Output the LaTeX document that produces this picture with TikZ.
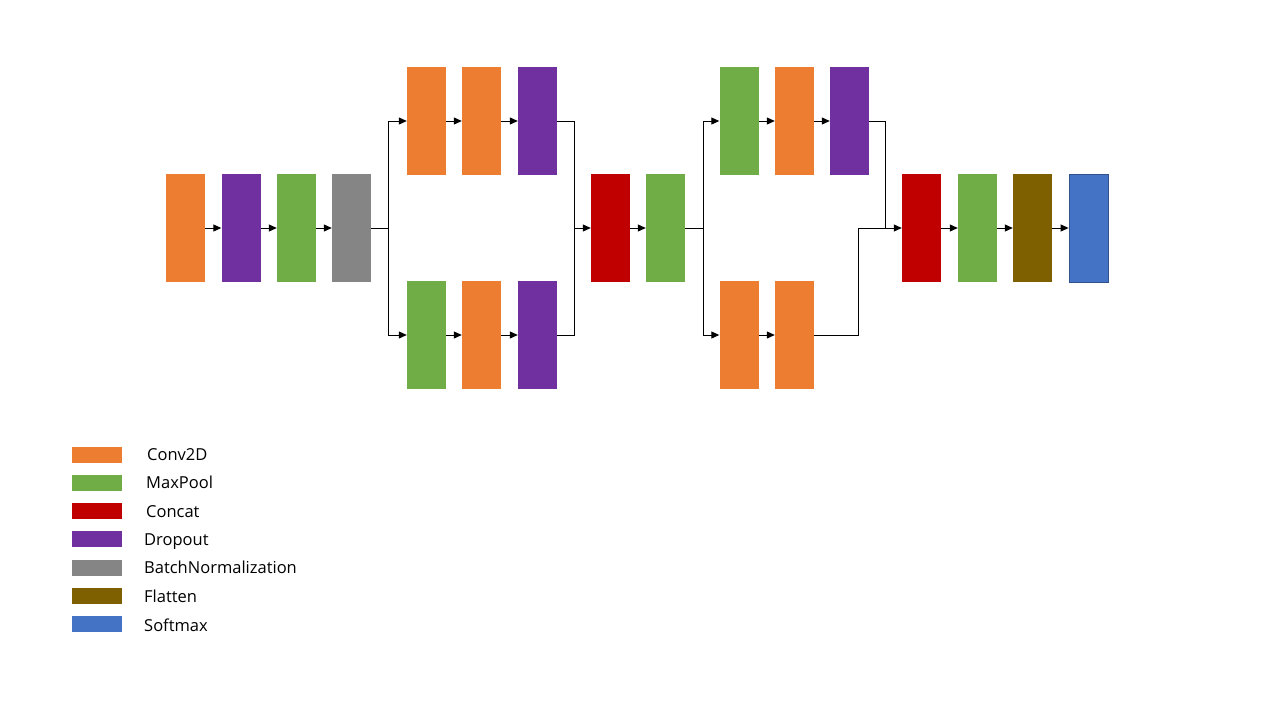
\documentclass[tikz,border=0pt]{standalone}
\usepackage{fontspec}
\setmainfont{Open Sans}
\usetikzlibrary{arrows.meta}
\definecolor{corange}{HTML}{ED7D31}
\definecolor{cpurple}{HTML}{7030A0}
\definecolor{cgreen}{HTML}{70AD47}
\definecolor{cgray}{HTML}{858585}
\definecolor{cred}{HTML}{C00000}
\definecolor{cbrown}{HTML}{7F6000}
\definecolor{cblue}{HTML}{4472C4}
\definecolor{cblueb}{HTML}{2F528F}
\tikzset{
  layer/.style={rectangle, minimum width=39pt, minimum height=108pt, inner sep=0pt, draw=none},
  conv/.style={layer, fill=corange},
  drop/.style={layer, fill=cpurple},
  pool/.style={layer, fill=cgreen},
  bnorm/.style={layer, fill=cgray},
  cat/.style={layer, fill=cred},
  flat/.style={layer, fill=cbrown},
  soft/.style={layer, fill=cblue, draw=cblueb, line width=0.8pt},
  legbox/.style={rectangle, minimum width=50pt, minimum height=16pt, inner sep=0pt},
  legtxt/.style={anchor=base west, inner sep=0pt, font=\fontsize{16.5}{19}\selectfont},
  conn/.style={draw=black, line width=1pt},
  arr/.style={conn, -{Triangle[length=8pt,width=7pt]}}
}
\begin{document}
\begin{tikzpicture}[x=1pt,y=-1pt]
\useasboundingbox (0,0) rectangle (1280,720);
\fill[white] (0,0) rectangle (1280,720);
% main row 1
\node[conv]  (a1) at (185.5,228) {};
\node[drop]  (a2) at (241,228) {};
\node[pool]  (a3) at (296.5,228) {};
\node[bnorm] (a4) at (351.5,228) {};
% branch block 1
\node[conv] (t1) at (426.5,121) {};
\node[conv] (t2) at (481.5,121) {};
\node[drop] (t3) at (537.5,121) {};
\node[pool] (b1) at (426.5,335) {};
\node[conv] (b2) at (481.5,335) {};
\node[drop] (b3) at (537.5,335) {};
% middle
\node[cat]  (c1) at (610.5,228) {};
\node[pool] (c2) at (665.5,228) {};
% branch block 2
\node[pool] (u1) at (739,121) {};
\node[conv] (u2) at (794.5,121) {};
\node[drop] (u3) at (849.5,121) {};
\node[conv] (v1) at (739,335) {};
\node[conv] (v2) at (794.5,335) {};
% final
\node[cat]  (e1) at (921.5,228) {};
\node[pool] (e2) at (977.5,228) {};
\node[flat] (e3) at (1032.5,228) {};
\node[soft] (e4) at (1088.5,228) {};
% junctions
\coordinate (j1) at (388,228);
\coordinate (m1) at (574,228);
\coordinate (j2) at (703,228);
\coordinate (m2) at (885,228);
\coordinate (m3) at (858,228);
% connectors
\draw[arr] (a1.east) -- (a2.west);
\draw[arr] (a2.east) -- (a3.west);
\draw[arr] (a3.east) -- (a4.west);
\draw[conn] (a4.east) -- (j1);
\draw[arr] (j1) |- (t1.west);
\draw[arr] (j1) |- (b1.west);
\draw[arr] (t1.east) -- (t2.west);
\draw[arr] (t2.east) -- (t3.west);
\draw[arr] (b1.east) -- (b2.west);
\draw[arr] (b2.east) -- (b3.west);
\draw[conn] (t3.east) -| (m1);
\draw[conn] (b3.east) -| (m1);
\draw[arr] (m1) -- (c1.west);
\draw[arr] (c1.east) -- (c2.west);
\draw[conn] (c2.east) -- (j2);
\draw[arr] (j2) |- (u1.west);
\draw[arr] (j2) |- (v1.west);
\draw[arr] (u1.east) -- (u2.west);
\draw[arr] (u2.east) -- (u3.west);
\draw[arr] (v1.east) -- (v2.west);
\draw[conn] (u3.east) -| (m2);
\draw[conn] (v2.east) -| (m3);
\draw[arr] (m3) -- (e1.west);
\draw[arr] (e1.east) -- (e2.west);
\draw[arr] (e2.east) -- (e3.west);
\draw[arr] (e3.east) -- (e4.west);
% legend
\node[legbox, fill=corange] (l1) at (97,455) {};
\node[legbox, fill=cgreen]  (l2) at (97,483) {};
\node[legbox, fill=cred]    (l3) at (97,511) {};
\node[legbox, fill=cpurple] (l4) at (97,539) {};
\node[legbox, fill=cgray]   (l5) at (97,568) {};
\node[legbox, fill=cbrown]  (l6) at (97,596) {};
\node[legbox, fill=cblue]   (l7) at (97,624) {};
\node[legtxt] (t_l1) at (147,460) {Conv2D};
\node[legtxt] (t_l2) at (146,488) {MaxPool};
\node[legtxt] (t_l3) at (146,517) {Concat};
\node[legtxt] (t_l4) at (144,545) {Dropout};
\node[legtxt] (t_l5) at (144,573) {BatchNormalization};
\node[legtxt] (t_l6) at (144,602) {Flatten};
\node[legtxt] (t_l7) at (144,631) {Softmax};
\end{tikzpicture}
\end{document}
